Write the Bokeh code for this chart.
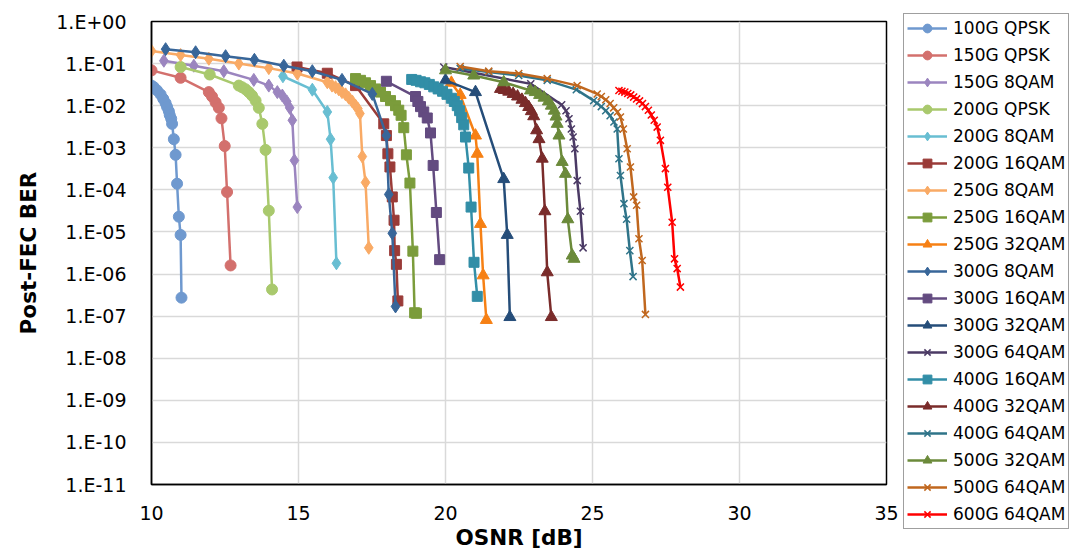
from bokeh.plotting import figure
from bokeh.models import FixedTicker, CustomJSTickFormatter, Legend, LegendItem, Range1d
from bokeh.embed import file_html
from bokeh.resources import INLINE

# ---------------- data ----------------
series_names = ["100G QPSK", "150G QPSK", "150G 8QAM", "200G QPSK", "200G 8QAM",
                "200G 16QAM", "250G 8QAM", "250G 16QAM", "250G 32QAM", "300G 8QAM",
                "300G 16QAM", "300G 32QAM", "300G 64QAM", "400G 16QAM", "400G 32QAM",
                "400G 64QAM", "500G 32QAM", "500G 64QAM", "600G 64QAM"]

osnr_100g_qpsk = [10.0, 10.08, 10.19, 10.31, 10.40, 10.48, 10.53, 10.59, 10.62, 10.67, 10.70,
                  10.76, 10.82, 10.87, 10.93, 10.99, 11.02]
ber_100g_qpsk = [3.0e-2, 2.75e-2, 2.3e-2, 1.85e-2, 1.45e-2, 1.15e-2, 9.3e-3, 7.4e-3, 6.0e-3,
                 4.9e-3, 3.7e-3, 1.6e-3, 6.8e-4, 1.4e-4, 2.3e-5, 8.5e-6, 2.75e-7]

osnr_150g_qpsk = [10.0, 10.99, 11.95, 12.06, 12.18, 12.29, 12.38, 12.49, 12.57, 12.69]
ber_150g_qpsk = [6.9e-2, 4.6e-2, 2.1e-2, 1.65e-2, 1.2e-2, 8.9e-3, 5.0e-3, 1.1e-3, 8.9e-5, 1.6e-6]

osnr_150g_8qam = [10.42, 11.44, 12.46, 13.48, 13.99, 14.28, 14.45, 14.60, 14.70, 14.79, 14.86, 14.96]
ber_150g_8qam = [1.17e-1, 8.9e-2, 6.6e-2, 4.1e-2, 3.0e-2, 2.1e-2, 1.74e-2, 1.26e-2, 8.9e-3,
                 4.5e-3, 5.0e-4, 3.9e-5]

osnr_200g_qpsk = [10.99, 11.98, 12.97, 13.08, 13.20, 13.31, 13.42, 13.54, 13.65, 13.77, 13.88,
                  13.99, 14.10]
ber_200g_qpsk = [8.3e-2, 5.5e-2, 3.0e-2, 2.75e-2, 2.45e-2, 2.1e-2, 1.74e-2, 1.32e-2, 8.9e-3,
                 3.7e-3, 8.9e-4, 3.2e-5, 4.3e-7]

osnr_200g_8qam = [14.47, 15.47, 15.98, 16.09, 16.18, 16.29]
ber_200g_8qam = [5.0e-2, 2.4e-2, 7.1e-3, 1.6e-3, 1.95e-4, 1.8e-6]

osnr_200g_16qam = [14.95, 15.98, 16.94, 17.90, 17.99, 18.04, 18.11, 18.19, 18.25, 18.27, 18.33, 18.38]
ber_200g_16qam = [8.3e-2, 5.9e-2, 3.0e-2, 3.7e-3, 1.95e-3, 7.2e-4, 3.5e-4, 6.8e-5, 1.9e-5,
                  3.6e-6, 1.7e-6, 2.3e-7]

osnr_250g_8qam = [10.0, 10.99, 11.95, 12.97, 13.99, 14.96, 15.98, 16.14, 16.26, 16.37, 16.48,
                  16.60, 16.71, 16.83, 16.94, 17.02, 17.09, 17.17, 17.28, 17.39]
ber_250g_8qam = [2.0e-1, 1.6e-1, 1.3e-1, 1.0e-1, 7.8e-2, 5.8e-2, 3.6e-2, 3.0e-2, 2.75e-2,
                 2.45e-2, 2.1e-2, 1.86e-2, 1.55e-2, 1.26e-2, 1.0e-2, 8.5e-3, 6.5e-3, 6.2e-4,
                 1.5e-4, 4.2e-6]

osnr_250g_16qam = [16.94, 17.11, 17.28, 17.45, 17.62, 17.79, 17.96, 18.13, 18.30, 18.41, 18.49,
                   18.58, 18.67, 18.79, 18.89, 18.95, 19.01]
ber_250g_16qam = [4.4e-2, 4.0e-2, 3.5e-2, 3.0e-2, 2.5e-2, 2.1e-2, 1.65e-2, 1.32e-2, 1.0e-2,
                  7.8e-3, 5.9e-3, 3.0e-3, 6.8e-4, 1.45e-4, 3.5e-6, 1.2e-7, 1.17e-7]

osnr_250g_32qam = [20.2, 20.5, 21.02, 21.08, 21.19, 21.28, 21.39]
ber_250g_32qam = [3.5e-2, 1.8e-2, 1.95e-3, 7.2e-4, 1.55e-5, 9.3e-7, 8.1e-8]

osnr_300g_8qam = [10.48, 11.50, 12.52, 13.50, 14.50, 15.47, 16.48, 17.51, 17.99, 18.07, 18.19, 18.30]
ber_300g_8qam = [2.2e-1, 1.86e-1, 1.5e-1, 1.23e-1, 8.9e-2, 6.6e-2, 4.1e-2, 1.9e-2, 1.95e-3,
                 7.8e-5, 9.3e-6, 1.7e-7]

osnr_300g_16qam = [17.99, 18.98, 19.06, 19.15, 19.26, 19.38, 19.49, 19.58, 19.69, 19.80]
ber_300g_16qam = [3.8e-2, 1.65e-2, 1.26e-2, 9.5e-3, 7.1e-3, 5.1e-3, 2.25e-3, 3.8e-4, 2.9e-5, 2.2e-6]

osnr_300g_32qam = [20.0, 21.02, 21.98, 22.10, 22.19]
ber_300g_32qam = [4.0e-2, 2.1e-2, 1.8e-4, 8.5e-6, 9.5e-8]

osnr_300g_64qam = [19.94, 22.90, 23.95, 24.10, 24.20, 24.28, 24.34, 24.40, 24.48, 24.59, 24.68]
ber_300g_64qam = [8.3e-2, 3.3e-2, 1.05e-2, 7.6e-3, 4.9e-3, 2.8e-3, 1.8e-3, 9.5e-4, 1.66e-4,
                  3.1e-5, 4.2e-6]

osnr_400g_16qam = [18.85, 19.0, 19.15, 19.3, 19.45, 19.6, 19.75, 19.9, 20.05, 20.2, 20.3, 20.4,
                   20.48, 20.55, 20.62, 20.68, 20.79, 20.87, 20.97, 21.08]
ber_400g_16qam = [4.2e-2, 4.0e-2, 3.7e-2, 3.5e-2, 3.2e-2, 2.8e-2, 2.5e-2, 2.2e-2, 1.86e-2,
                  1.5e-2, 1.26e-2, 1.0e-2, 7.6e-3, 5.2e-3, 3.5e-3, 1.8e-3, 3.3e-4, 3.9e-5,
                  1.9e-6, 2.95e-7]

osnr_400g_32qam = [21.87, 22.0, 22.15, 22.3, 22.45, 22.6, 22.72, 22.83, 22.92, 23.0, 23.10,
                   23.18, 23.29, 23.38, 23.46, 23.60]
ber_400g_32qam = [2.5e-2, 2.35e-2, 2.15e-2, 1.9e-2, 1.65e-2, 1.38e-2, 1.15e-2, 9.3e-3, 7.4e-3,
                  5.6e-3, 2.6e-3, 1.6e-3, 5.5e-4, 3.1e-5, 1.1e-6, 9.5e-8]

osnr_400g_64qam = [20.5, 21.47, 22.49, 23.46, 24.45, 25.04, 25.15, 25.3, 25.45, 25.6, 25.73,
                   25.84, 25.90, 25.95, 26.07, 26.16, 26.27, 26.38]
ber_400g_64qam = [7.6e-2, 6.3e-2, 5.2e-2, 4.0e-2, 2.4e-2, 1.32e-2, 1.15e-2, 9.5e-3, 7.6e-3,
                  5.8e-3, 4.1e-3, 2.8e-3, 5.5e-4, 2.2e-4, 4.7e-5, 2.0e-5, 3.6e-6, 8.7e-7]

osnr_500g_32qam = [20.0, 20.96, 21.98, 22.89, 23.05, 23.2, 23.35, 23.5, 23.6, 23.7, 23.76, 23.80,
                   23.86, 23.97, 24.08, 24.16, 24.31, 24.37]
ber_500g_32qam = [6.9e-2, 5.2e-2, 3.6e-2, 2.3e-2, 2.1e-2, 1.8e-2, 1.55e-2, 1.26e-2, 1.0e-2,
                  7.6e-3, 5.5e-3, 3.7e-3, 1.95e-3, 4.6e-4, 2.4e-4, 2.0e-5, 2.75e-6, 2.3e-6]

osnr_500g_64qam = [20.5, 21.47, 22.49, 23.46, 24.48, 25.16, 25.3, 25.45, 25.6, 25.72, 25.85,
                   25.95, 26.05, 26.18, 26.29, 26.40, 26.50, 26.58, 26.69, 26.80]
ber_500g_64qam = [8.5e-2, 6.6e-2, 5.8e-2, 4.4e-2, 3.0e-2, 1.9e-2, 1.65e-2, 1.38e-2, 1.12e-2,
                  8.9e-3, 7.1e-3, 5.4e-3, 2.8e-3, 9.5e-4, 3.5e-4, 6.8e-5, 4.3e-5, 6.9e-6,
                  2.1e-6, 1.1e-7]

osnr_600g_64qam = [25.9, 26.0, 26.1, 26.2, 26.3, 26.4, 26.5, 26.6, 26.7, 26.8, 26.9, 27.0, 27.1,
                   27.2, 27.31, 27.48, 27.56, 27.71, 27.79, 27.88, 27.99]
ber_600g_64qam = [2.3e-2, 2.2e-2, 2.1e-2, 1.95e-2, 1.8e-2, 1.6e-2, 1.45e-2, 1.3e-2, 1.12e-2,
                  9.5e-3, 7.8e-3, 6.0e-3, 4.5e-3, 3.1e-3, 1.5e-3, 3.2e-4, 1.15e-4, 1.7e-5,
                  2.3e-6, 1.35e-6, 4.9e-7]

x_ticks = [10, 15, 20, 25, 30, 35]
y_ticks = [1e-11, 1e-10, 1e-9, 1e-8, 1e-7, 1e-6, 1e-5, 1e-4, 1e-3, 1e-2, 1e-1, 1e0]

series_x = [osnr_100g_qpsk, osnr_150g_qpsk, osnr_150g_8qam, osnr_200g_qpsk, osnr_200g_8qam,
            osnr_200g_16qam, osnr_250g_8qam, osnr_250g_16qam, osnr_250g_32qam, osnr_300g_8qam,
            osnr_300g_16qam, osnr_300g_32qam, osnr_300g_64qam, osnr_400g_16qam, osnr_400g_32qam,
            osnr_400g_64qam, osnr_500g_32qam, osnr_500g_64qam, osnr_600g_64qam]
series_y = [ber_100g_qpsk, ber_150g_qpsk, ber_150g_8qam, ber_200g_qpsk, ber_200g_8qam,
            ber_200g_16qam, ber_250g_8qam, ber_250g_16qam, ber_250g_32qam, ber_300g_8qam,
            ber_300g_16qam, ber_300g_32qam, ber_300g_64qam, ber_400g_16qam, ber_400g_32qam,
            ber_400g_64qam, ber_500g_32qam, ber_500g_64qam, ber_600g_64qam]

# ---------------- styles ----------------
colors = ["#6f99cf", "#d3706d", "#9b85bf", "#a9c96d", "#68bed2", "#9a3b38", "#f9aa65",
          "#7b9c3b", "#f68014", "#386699", "#634b80", "#254d79", "#4b3a65", "#328ea7",
          "#7a2b2a", "#2f7489", "#6b8a3a", "#c0671e", "#ff0000"]
markers = ["circle", "circle", "diamond", "circle", "diamond", "square", "diamond", "square",
           "triangle", "diamond", "square", "triangle", "x", "square", "triangle", "x",
           "triangle", "x", "x"]

FONT = "DejaVu Sans"

p = figure(frame_width=735, frame_height=463, x_range=Range1d(10, 35), y_range=Range1d(1e-11, 1),
           y_axis_type="log", output_backend="svg", toolbar_location=None,
           min_border_left=151, min_border_right=0, min_border_top=21, min_border_bottom=74)

p.background_fill_color = "white"
p.border_fill_color = "white"
p.outline_line_color = "black"
p.outline_line_width = 1.5

p.xaxis.ticker = FixedTicker(ticks=x_ticks)
p.yaxis.ticker = FixedTicker(ticks=y_ticks)
p.yaxis.formatter = CustomJSTickFormatter(code="""
const e = Math.round(Math.log10(tick));
const a = Math.abs(e);
return '1.E' + (e < 0 ? '-' : '+') + (a < 10 ? '0' : '') + a;
""")

for ax in (p.xaxis[0], p.yaxis[0]):
    ax.axis_line_color = "black"
    ax.axis_line_width = 1.5
    ax.major_tick_line_color = None
    ax.minor_tick_line_color = None
    ax.major_tick_out = 0
    ax.major_tick_in = 0
    ax.major_label_text_font = FONT
    ax.major_label_text_font_size = "19px"
    ax.major_label_text_color = "black"
    ax.axis_label_text_font = FONT
    ax.axis_label_text_font_style = "bold"
    ax.axis_label_text_font_size = "21.5px"
    ax.axis_label_text_color = "black"

p.xaxis.axis_label = "OSNR [dB]"
p.yaxis.axis_label = "Post-FEC BER"
p.xaxis.major_label_standoff = 21
p.xaxis.axis_label_standoff = 2
p.yaxis.major_label_standoff = 25
p.yaxis.axis_label_standoff = 12

p.xgrid.grid_line_color = "#d9d9d9"
p.ygrid.grid_line_color = "#d9d9d9"
p.xgrid.grid_line_width = 1.5
p.ygrid.grid_line_width = 1.5

items = []
for name, xs, ys, c, m in zip(series_names, series_x, series_y, colors, markers):
    ln = p.line(xs, ys, line_color=c, line_width=2.5)
    if m == "circle":
        sc = p.scatter(xs, ys, marker="circle", size=11, fill_color=c, line_color=c)
    elif m == "diamond":
        sc = p.scatter(xs, ys, marker="diamond", size=13, fill_color=c, line_color=c)
    elif m == "square":
        sc = p.scatter(xs, ys, marker="square", size=10, fill_color=c, line_color=c)
    elif m == "triangle":
        sc = p.scatter(xs, ys, marker="triangle", size=12, fill_color=c, line_color=c)
    else:
        sc = p.scatter(xs, ys, marker="x", size=10, line_color=c, line_width=1.5)
    items.append(LegendItem(label=name, renderers=[ln, sc]))

legend = Legend(items=items, location=(17, -45), padding=3, spacing=5, margin=0,
                glyph_width=40, glyph_height=22, label_height=22, label_standoff=6,
                label_text_font=FONT, label_text_font_size="17px", label_text_color="black",
                border_line_color="#404040", border_line_width=1,
                background_fill_color="white", background_fill_alpha=1.0)
p.add_layout(legend, "right")

open("out.html", "w").write(file_html(p, INLINE))
